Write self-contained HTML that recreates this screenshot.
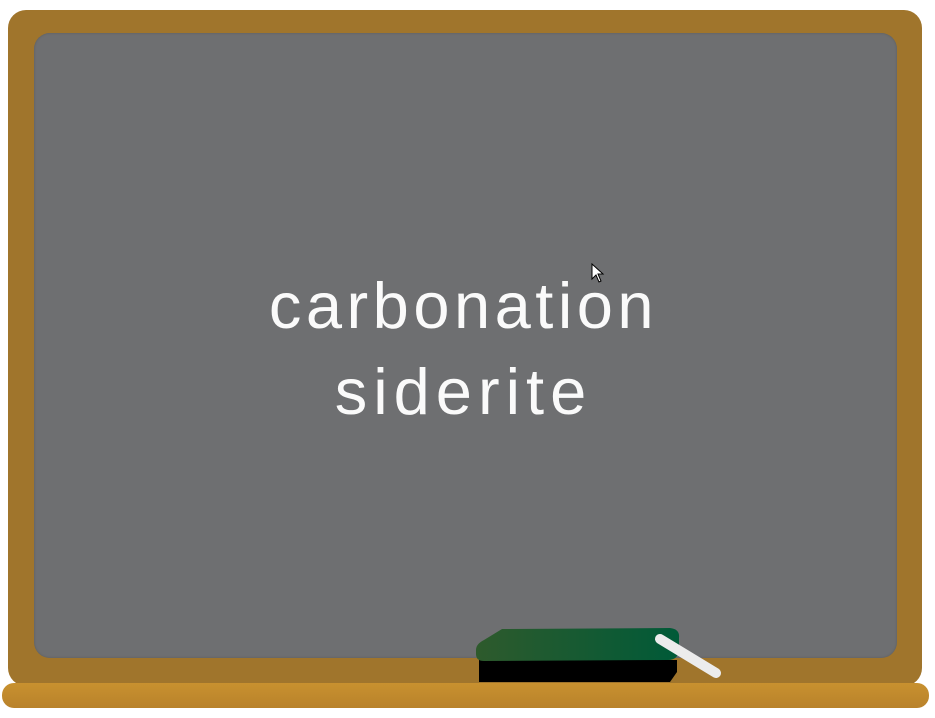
<!DOCTYPE html>
<html><head><meta charset="utf-8"><style>
html,body{margin:0;padding:0;width:935px;height:718px;overflow:hidden;background:#fff;}
.abs{position:absolute;}
</style></head><body>
<div class="abs" style="left:8px;top:10px;width:914px;height:676px;background:#a0752c;border-radius:18px;"></div>
<div class="abs" style="left:34px;top:33px;width:863px;height:625px;background:#6e6f71;border-radius:16px;box-shadow:inset 0 0 2px #5a5b5c;"></div>
<div class="abs" style="left:0;top:263px;width:935px;text-align:center;color:#fafafa;font-family:'Liberation Sans',sans-serif;font-size:65px;line-height:86px;">
<div style="margin-left:-8px;letter-spacing:4.5px;">carbonation</div>
<div style="margin-left:-8px;letter-spacing:6px;">siderite</div>
</div>
<svg class="abs" style="left:591px;top:263px" width="14" height="22"><path d="M1 1 L1 16 L5 12 L8 19 L10 18 L7 11 L12 11 Z" fill="#fff" stroke="#000" stroke-width="1"/></svg>
<div class="abs" style="left:2px;top:683px;width:927px;height:25px;background:linear-gradient(#c8912f,#b9822b);border-radius:12px;"></div>
<svg class="abs" style="left:470px;top:620px" width="270" height="70">
<defs><linearGradient id="g" x1="0" x2="1"><stop offset="0" stop-color="#2e5a2c"/><stop offset="1" stop-color="#005a38"/></linearGradient></defs>
<path d="M9 40 L9 62 L200 62 L207 52 L207 40 Z" fill="#000"/>
<path d="M6 30 Q6 24 14 20 L32 9 L200 8 Q210 9 209 18 L209 30 Q208 40 198 40 L14 41 Q6 41 6 34 Z" fill="url(#g)"/>
<line x1="190" y1="19" x2="246" y2="53" stroke="#ececec" stroke-width="10" stroke-linecap="round"/>
</svg>
</body></html>
